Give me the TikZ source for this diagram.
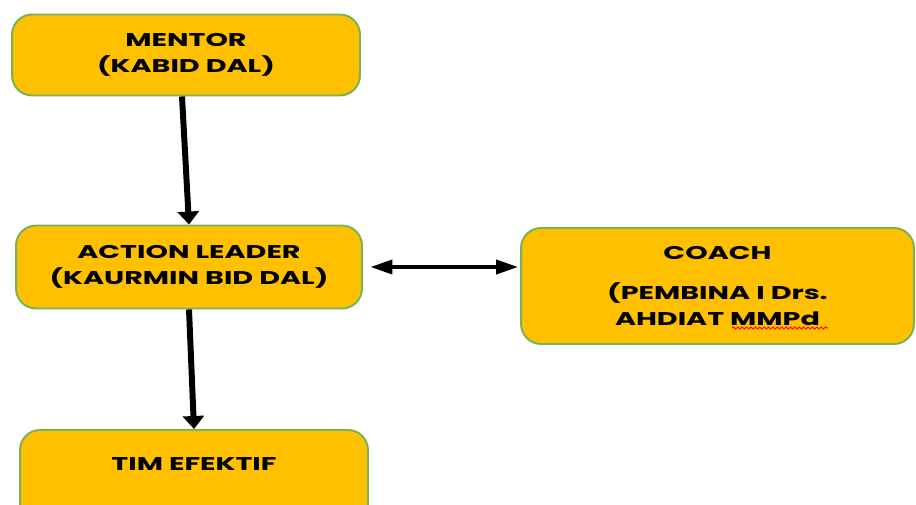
\documentclass[tikz,border=0pt]{standalone}
\usepackage{fontspec}
\newfontfamily\boxfont{Poppins}[FakeStretch=1.55]
\usetikzlibrary{arrows.meta,decorations.pathmorphing}
\definecolor{boxfill}{HTML}{FFC000}
\definecolor{boxline}{HTML}{77B255}
\tikzset{
  kotak/.style={draw=boxline, line width=1.1pt, fill=boxfill, rounded corners=0.4cm,
    inner sep=0pt, align=center, font=\boxfont\bfseries\fontsize{10.5}{14.7}\selectfont},
  panah/.style={-{Triangle[length=0.26cm,width=0.42cm]}, line width=3.4pt},
  panahdua/.style={{Triangle[length=0.44cm,width=0.28cm]}-{Triangle[length=0.44cm,width=0.28cm]}, line width=2.2pt}
}

\begin{document}
\begin{tikzpicture}[x=0.02cm,y=-0.02cm]
\useasboundingbox (0,0) rectangle (916,504);
\node[kotak, minimum width=6.96cm, minimum height=1.62cm] (mentor) at (186,55) {MENTOR\\(KABID DAL)};
\node[kotak, minimum width=6.92cm, minimum height=1.66cm] (leader) at (189,267) {ACTION LEADER\\(KAURMIN BID DAL)};
\node[kotak, minimum width=7.86cm, minimum height=2.32cm] (coach) at (717.5,286) {COACH\\[0.3cm](PEMBINA I Drs.\\AHDIAT MMPd};
\node[kotak, minimum width=6.96cm, anchor=north, text height=0.4cm, text depth=1.2cm, inner ysep=0.41cm] (tim) at (194,429) {TIM EFEKTIF};
% garis
\draw[panah] ([xshift=-0.08cm]mentor.south) -- (leader.north);
\draw[panah] (leader.south) -- (tim.north);
\draw[panahdua, shorten <=0.15cm, shorten >=0.04cm] (leader.east) -- (leader.east -| coach.west);
\draw[red, line width=0.5pt, decorate, decoration={snake, amplitude=0.6pt, segment length=2.5pt}] (732,328) -- (828,328);
\end{tikzpicture}
\end{document}
